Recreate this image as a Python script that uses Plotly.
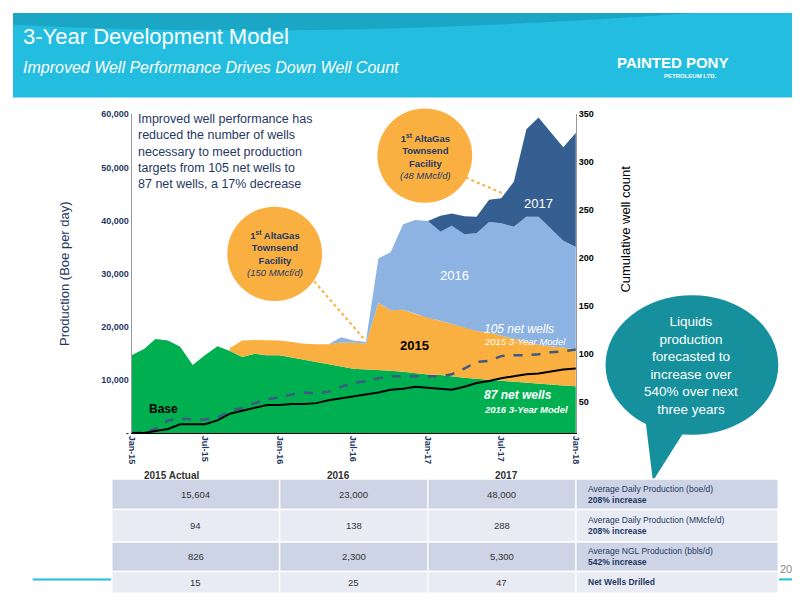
import pandas as pd
import plotly.graph_objects as go

# ---- data ----
months = pd.date_range("2015-01-01", "2018-01-01", freq="MS")

base = [14600, 15800, 17700, 17400, 16200, 12800, 14600, 16300, 15400, 14300, 14900, 14600,
        14600, 14200, 13700, 13300, 12900, 12500, 12100, 12000, 11800, 11700, 11500, 11200,
        11000, 10900, 10600, 10400, 10200, 10000, 9900, 9700, 9500, 9300, 9100, 8900, 8800]
# cumulative tops (base + wells by vintage)
top_2015 = [None] * 8 + [16000, 17400, 17500, 17400, 17400, 17100, 16800, 16700, 16700, 17000,
            17000, 16800, 24500, 23100, 23200, 22400, 21700, 21100, 20500, 19900, 19200, 18900,
            18300, 17700, 17100, 16600, 16300, 16000, 15800]
top_2016 = [None] * 16 + [16700, 18000, 17400, 17100, 32900, 34000, 39300, 40100, 39900, 37900,
            39000, 37400, 37600, 39700, 39500, 38800, 40700, 40700, 38400, 36200, 35000]
top_2017 = [None] * 24 + [39900, 40900, 41300, 40800, 40700, 43900, 44200, 47300, 57200, 59400,
            56500, 53800, 56500]

wells_105 = [18, 19, 22, 31, 33, 32, 32, 34, 41, 44, 49, 53, 55, 58, 60, 59, 61, 66, 70, 72, 75,
             77, 77, 77, 77, 77, 79, 85, 92, 93, 98, 99, 99, 100, 102, 103, 105]
wells_87 = [18, 18, 20, 22, 27, 27, 27, 31, 38, 41, 44, 47, 47, 48, 48, 49, 52, 54, 56, 58, 60,
            63, 64, 66, 65, 64, 63, 66, 70, 72, 75, 77, 79, 80, 82, 84, 85]

col_years = ["2015 Actual", "2016", "2017"]
table_vals = [["15,604", "23,000", "48,000"],
              ["94", "138", "288"],
              ["826", "2,300", "5,300"],
              ["15", "25", "47"]]
table_desc = [("Average Daily Production (boe/d)", "208% increase"),
              ("Average Daily Production (MMcfe/d)", "208% increase"),
              ("Average NGL Production (bbls/d)", "542% increase"),
              ("Net Wells Drilled", None)]

W, H = 800, 600
def px(x): return x / W
def py(y): return 1 - y / H

NAVY = "#1f3864"
fig = go.Figure()

fig.add_trace(go.Scatter(x=months, y=base, mode="lines", line=dict(width=0),
                         fill="tozeroy", fillcolor="#00b050", name="Base"))
# lower edges for each vintage (hidden), then filled tops
layers = [(top_2015, base, "#f9b040"), (top_2016, top_2015, "#8db3e2"), (top_2017, top_2016, "#355f91")]
for top, lower, color in layers:
    low = [l if t is not None else None for t, l in zip(top, lower)]
    fig.add_trace(go.Scatter(x=months, y=low, mode="lines", line=dict(width=0),
                             showlegend=False, hoverinfo="skip"))
    fig.add_trace(go.Scatter(x=months, y=top, mode="lines", line=dict(width=0),
                             fill="tonexty", fillcolor=color, showlegend=False))

fig.add_trace(go.Scatter(x=months, y=wells_105, mode="lines", yaxis="y2",
                         line=dict(color="#3d5a80", width=2.5, dash="dash"), showlegend=False))
fig.add_trace(go.Scatter(x=months, y=wells_87, mode="lines", yaxis="y2",
                         line=dict(color="black", width=2), showlegend=False))

shapes = [
    dict(type="rect", xref="paper", yref="paper", x0=0, x1=1, y0=py(86), y1=1,
         fillcolor="#22bddf", line_width=0, layer="below"),
    dict(type="path", xref="paper", yref="paper",
         path=f"M 0 {py(0)} L 0 {py(12)} Q {px(300)} {py(28)} {px(690)} {py(0)} Z",
         fillcolor="#1aa6c4", line_width=0, layer="below"),
    dict(type="line", xref="paper", yref="paper", x0=px(20), x1=px(100), y0=py(576), y1=py(576),
         line=dict(color="#22bddf", width=2)),
    dict(type="line", xref="paper", yref="paper", x0=px(775), x1=px(792), y0=py(576), y1=py(576),
         line=dict(color="#22bddf", width=2)),
    # speech bubble
    dict(type="path", xref="paper", yref="paper",
         path=f"M {px(640)} {py(410)} L {px(648)} {py(476)} L {px(680)} {py(425)} Z",
         fillcolor="#15909c", line_width=0),
    dict(type="circle", xref="paper", yref="paper", x0=px(600), x1=px(775), y0=py(287), y1=py(429),
         fillcolor="#15909c", line_width=0),
    # orange callouts
    dict(type="circle", xref="paper", yref="paper", x0=px(217), x1=px(313), y0=py(197), y1=py(293),
         fillcolor="#f9b040", line_width=0),
    dict(type="circle", xref="paper", yref="paper", x0=px(369), x1=px(465), y0=py(97), y1=py(193),
         fillcolor="#f9b040", line_width=0),
    dict(type="line", xref="paper", yref="paper", x0=px(305), x1=px(356), y0=py(273), y1=py(332),
         line=dict(color="#f9b040", width=2, dash="dot")),
    dict(type="line", xref="paper", yref="paper", x0=px(453), x1=px(495), y0=py(165), y1=py(183),
         line=dict(color="#f9b040", width=2, dash="dot")),
]

annotations = [
    dict(x=px(8), y=py(24), text="3-Year Development Model", font=dict(size=22, color="white")),
    dict(x=px(8), y=py(55), text="<i>Improved Well Performance Drives Down Well Count</i>",
         font=dict(size=16, color="white")),
    dict(x=px(610), y=py(50), text="<b>PAINTED PONY</b>", font=dict(size=15, color="white")),
    dict(x=px(657), y=py(64), text="<b>PETROLEUM LTD.</b>", font=dict(size=6, color="white")),
    dict(x=px(125), y=py(141), text="Improved well performance has<br>reduced the number of wells<br>"
         "necessary to meet production<br>targets from 105 net wells to<br>87 net wells, a 17% decrease",
         font=dict(size=12.5, color=NAVY), align="left"),
    dict(x=px(265), y=py(245), xanchor="center", align="center",
         text="<b>1<sup>st</sup> AltaGas<br>Townsend<br>Facility</b><br><i>(150 MMcf/d)</i>",
         font=dict(size=9.5, color=NAVY)),
    dict(x=px(418), y=py(146), xanchor="center", align="center",
         text="<b>1<sup>st</sup> AltaGas<br>Townsend<br>Facility</b><br><i>(48 MMcf/d)</i>",
         font=dict(size=9.5, color=NAVY)),
    dict(x=px(687), y=py(358), xanchor="center", align="center",
         text="Liquids<br>production<br>forecasted to<br>increase over<br>540% over next<br>three years",
         font=dict(size=13.5, color="white")),
    dict(x=px(532), y=py(194), xanchor="center", text="2017", font=dict(size=13, color="white")),
    dict(x=px(447), y=py(267), xanchor="center", text="2016", font=dict(size=13, color="white")),
    dict(x=px(407), y=py(338), xanchor="center", text="<b>2015</b>", font=dict(size=13, color="black")),
    dict(x=px(136), y=py(403), text="<b>Base</b>", font=dict(size=12, color="black")),
    dict(x=px(475), y=py(321), text="<i>105 net wells</i>", font=dict(size=12, color="white")),
    dict(x=px(475), y=py(334), text="<i>2015 3-Year Model</i>", font=dict(size=9.5, color="white")),
    dict(x=px(475), y=py(388), text="<b><i>87 net wells</i></b>", font=dict(size=12, color="white")),
    dict(x=px(475), y=py(403), text="<b><i>2016 3-Year Model</i></b>", font=dict(size=9.5, color="white")),
    dict(x=px(52), y=py(265), xanchor="center", text="Production (Boe per day)", textangle=-90,
         font=dict(size=13, color=NAVY)),
    dict(x=px(620), y=py(220), xanchor="center", text="Cumulative well count", textangle=-90,
         font=dict(size=13, color="black")),
    dict(x=px(783), y=py(565), xanchor="center", text="20", font=dict(size=11, color="#888888")),
]

# table
col_x = [100, 270, 420, 570, 775]
row_y = [474, 505, 538, 568, 590]
year_x = [160, 330, 500]
for i, yr in enumerate(col_years):
    annotations.append(dict(x=px(year_x[i]), y=py(470), xanchor="center",
                            text=f"<b>{yr}</b>", font=dict(size=10, color="#333333")))
for r in range(4):
    shapes.append(dict(type="rect", xref="paper", yref="paper", x0=px(100), x1=px(775),
                       y0=py(row_y[r + 1]), y1=py(row_y[r]),
                       fillcolor="#cdd4e6" if r % 2 == 0 else "#e8ebf3",
                       line=dict(color="white", width=1.5)))
    ym = (row_y[r] + row_y[r + 1]) / 2
    for c in range(3):
        annotations.append(dict(x=px((col_x[c] + col_x[c + 1]) / 2), y=py(ym), xanchor="center",
                                text=table_vals[r][c], font=dict(size=9.5, color="#333333")))
    d1, d2 = table_desc[r]
    txt = f"{d1}<br><b>{d2}</b>" if d2 else f"<b>{d1}</b>"
    annotations.append(dict(x=px(580), y=py(ym), align="left", text=txt,
                            font=dict(size=8.5, color=NAVY)))
for c in col_x[1:4]:
    shapes.append(dict(type="line", xref="paper", yref="paper", x0=px(c), x1=px(c),
                       y0=py(590), y1=py(474), line=dict(color="white", width=1.5)))

for a in annotations:
    a.setdefault("xref", "paper")
    a.setdefault("yref", "paper")
    a.setdefault("showarrow", False)
    a.setdefault("xanchor", "left")
    a.setdefault("yanchor", "middle")

fig.update_layout(
    width=W, height=H, margin=dict(l=0, r=0, t=0, b=0),
    paper_bgcolor="white", plot_bgcolor="white", showlegend=False,
    font=dict(family="Liberation Sans, Arial, sans-serif"),
    xaxis=dict(domain=[px(120), px(570)], type="date",
               range=[months[0], months[-1]], tickvals=months[::6], tickformat="%b-%y",
               tickangle=90, tickfont=dict(size=9, color=NAVY, weight="bold"),
               showgrid=False, showline=True, linecolor="black", ticks=""),
    yaxis=dict(domain=[py(427), py(103)], range=[0, 60000], tickvals=list(range(0, 60001, 10000)),
               ticktext=["-", "10,000", "20,000", "30,000", "40,000", "50,000", "60,000"],
               tickfont=dict(size=9, color=NAVY, weight="bold"), showgrid=False,
               showline=True, linecolor="#999999"),
    yaxis2=dict(overlaying="y", side="right", range=[18, 350], tickvals=list(range(50, 351, 50)),
                tickfont=dict(size=9, color="black", weight="bold"), showgrid=False,
                showline=True, linecolor="#999999"),
    shapes=shapes, annotations=annotations,
)

fig.write_html("out.html")
